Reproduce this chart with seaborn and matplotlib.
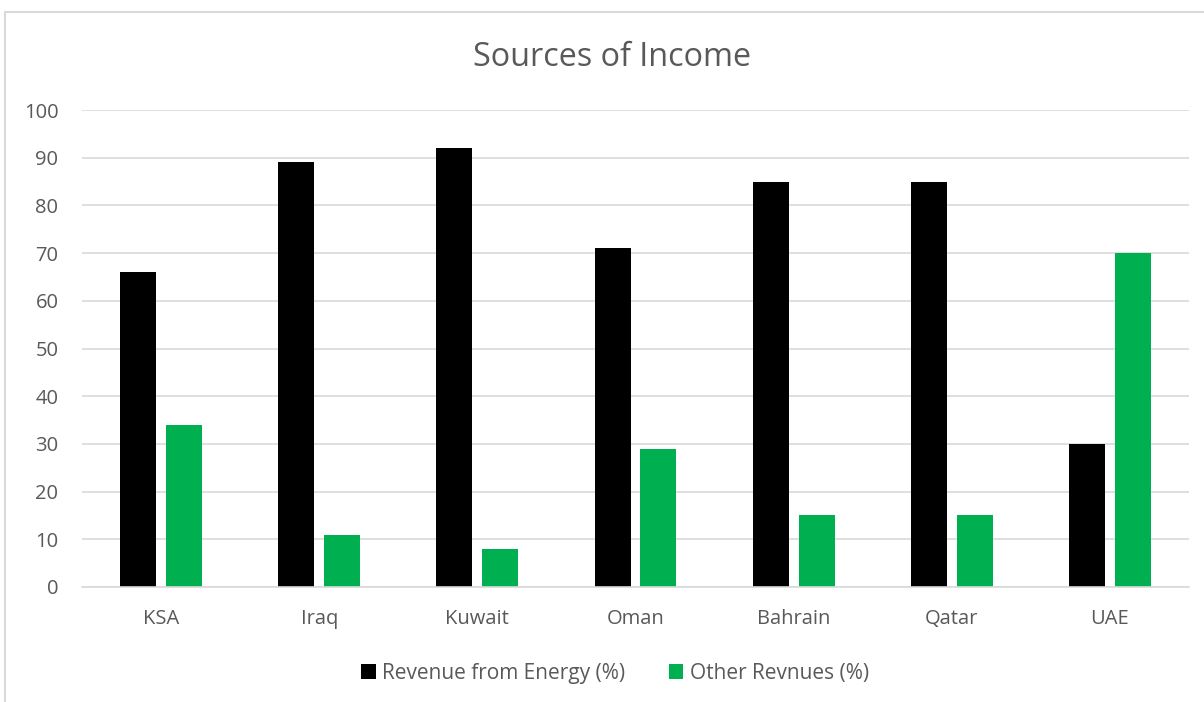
import pandas as pd
import matplotlib.pyplot as plt
import seaborn as sns
from matplotlib.patches import Rectangle

# Chart values
countries = ["KSA", "Iraq", "Kuwait", "Oman", "Bahrain", "Qatar", "UAE"]
energy = [66, 89, 92, 71, 85, 85, 30]
other = [34, 11, 8, 29, 15, 15, 70]
series_names = ["Revenue from Energy (%)", "Other Revnues (%)"]
colors = ["#000000", "#00b050"]

df = pd.DataFrame({
    "country": countries * 2,
    "series": [series_names[0]] * len(countries) + [series_names[1]] * len(countries),
    "value": energy + other,
})

sns.set_style("white")
plt.rcParams["font.family"] = ["Open Sans", "DejaVu Sans"]
text_color = "#595959"
grid_color = "#d9d9d9"

fig = plt.figure(figsize=(12.04, 7.02), dpi=100)
ax = fig.add_axes([82 / 1204, 1 - 587 / 702, (1189 - 82) / 1204, (587 - 110) / 702])

sns.barplot(data=df, x="country", y="value", hue="series", palette=colors,
            width=0.58, gap=0.214, ax=ax, linewidth=0, saturation=1)

ax.set_ylim(0, 100)
ax.set_yticks(range(0, 101, 10))
ax.set_xlim(-0.5, len(countries) - 0.5)
ax.yaxis.grid(True, color=grid_color, linewidth=1.2)
ax.set_axisbelow(True)
for side in ["top", "right", "left"]:
    ax.spines[side].set_visible(False)
ax.spines["bottom"].set_color(grid_color)
ax.spines["bottom"].set_linewidth(1.2)
ax.tick_params(axis="both", length=0, labelsize=14.5, labelcolor=text_color)
ax.tick_params(axis="x", pad=16)
ax.tick_params(axis="y", pad=17)
ax.set_xlabel("")
ax.set_ylabel("")

# the chart area runs past the right edge, so title and legend sit right of centre
handles, labels = ax.get_legend_handles_labels()
ax.get_legend().remove()
leg = fig.legend(handles, labels, loc="center", bbox_to_anchor=(615 / 1204, 1 - 673 / 702),
                 ncol=2, frameon=False, fontsize=15, handlelength=0.7, handleheight=0.7,
                 handletextpad=0.3, columnspacing=2.1)
for t in leg.get_texts():
    t.set_color(text_color)

fig.text(612 / 1204, 1 - 57 / 702, "Sources of Income", ha="center", va="center",
         fontsize=23.3, color=text_color)

# chart-area border
fig.patches.append(Rectangle((5 / 1204, -0.05), 1.2, 1 - 12 / 702 + 0.05,
                             transform=fig.transFigure, fill=False,
                             edgecolor=grid_color, linewidth=1.5))

fig.savefig("out.png", dpi=100)
plt.close()
